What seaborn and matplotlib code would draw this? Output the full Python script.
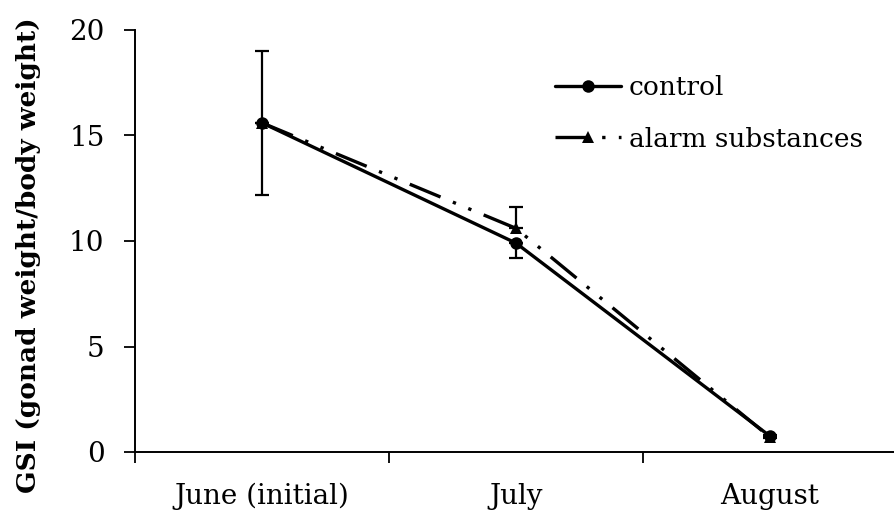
import matplotlib
matplotlib.use("Agg")
import matplotlib.pyplot as plt
import seaborn as sns
import pandas as pd
import numpy as np

months = ["June (initial)", "July", "August"]
series_names = ["control", "alarm substances"]
control = [15.6, 9.9, 0.75]
control_err_minus = [3.4, 0.7, 0.1]
alarm = [15.6, 10.6, 0.7]
alarm_err_plus = [3.4, 1.0, 0.1]
yticks = [0, 5, 10, 15, 20]

sns.set_theme(style="white")
plt.rcParams["font.family"] = ["DejaVu Serif"]
plt.rcParams["text.color"] = "black"
plt.rcParams["axes.labelcolor"] = "black"
plt.rcParams["xtick.color"] = "black"
plt.rcParams["ytick.color"] = "black"

df = pd.DataFrame({
    "month": months * 2,
    "gsi": control + alarm,
    "group": [series_names[0]] * 3 + [series_names[1]] * 3,
})

fig = plt.figure(figsize=(8.95, 5.23), dpi=100)
ax = fig.add_axes([135 / 895, 71 / 523, 762 / 895, 422 / 523])

sns.lineplot(data=df, x="month", y="gsi", hue="group", style="group",
             palette=["black", "black"], markers={"control": "o", "alarm substances": "^"},
             dashes={"control": "", "alarm substances": (10, 4, 1, 4, 1, 4)},
             markersize=9, linewidth=2.4, markeredgewidth=0, ax=ax, sort=False)

xpos = np.arange(len(months))
zeros = [0] * len(months)
ax.errorbar(xpos, control, yerr=[control_err_minus, zeros], fmt="none", ecolor="black",
            elinewidth=1.6, capsize=5, capthick=1.6, zorder=1)
ax.errorbar(xpos, alarm, yerr=[zeros, alarm_err_plus], fmt="none", ecolor="black",
            elinewidth=1.6, capsize=5, capthick=1.6, zorder=1)

ax.set_xlim(-0.5, 2.5)
ax.set_ylim(0, 20)
ax.set_yticks(yticks)
ax.set_yticklabels([str(v) for v in yticks], fontsize=20)
ax.set_xticks(xpos)
ax.set_xticklabels(months, fontsize=20)
ax.set_xticks([-0.5, 0.5, 1.5, 2.5], minor=True)
ax.tick_params(axis="x", which="major", bottom=True, length=0, pad=22)
ax.tick_params(axis="x", which="minor", bottom=True, length=8, width=1.3, direction="out")
ax.tick_params(axis="y", which="major", left=True, length=8, width=1.3, direction="out", pad=14)
ax.set_xlabel("")
ax.set_ylabel("GSI (gonad weight/body weight)", fontsize=19, fontweight="bold", color="black")
ax.yaxis.set_label_coords(-0.124, 0.467)

for s in ["top", "right"]:
    ax.spines[s].set_visible(False)
for s in ["left", "bottom"]:
    ax.spines[s].set_color("black")
    ax.spines[s].set_linewidth(1.4)

handles, labels = ax.get_legend_handles_labels()
ax.legend(handles, labels, frameon=False, fontsize=19, loc="upper left",
          bbox_to_anchor=(0.52, 0.949), handlelength=2.5, handletextpad=0.3,
          labelspacing=1.0)

fig.savefig("out.png", dpi=100)
